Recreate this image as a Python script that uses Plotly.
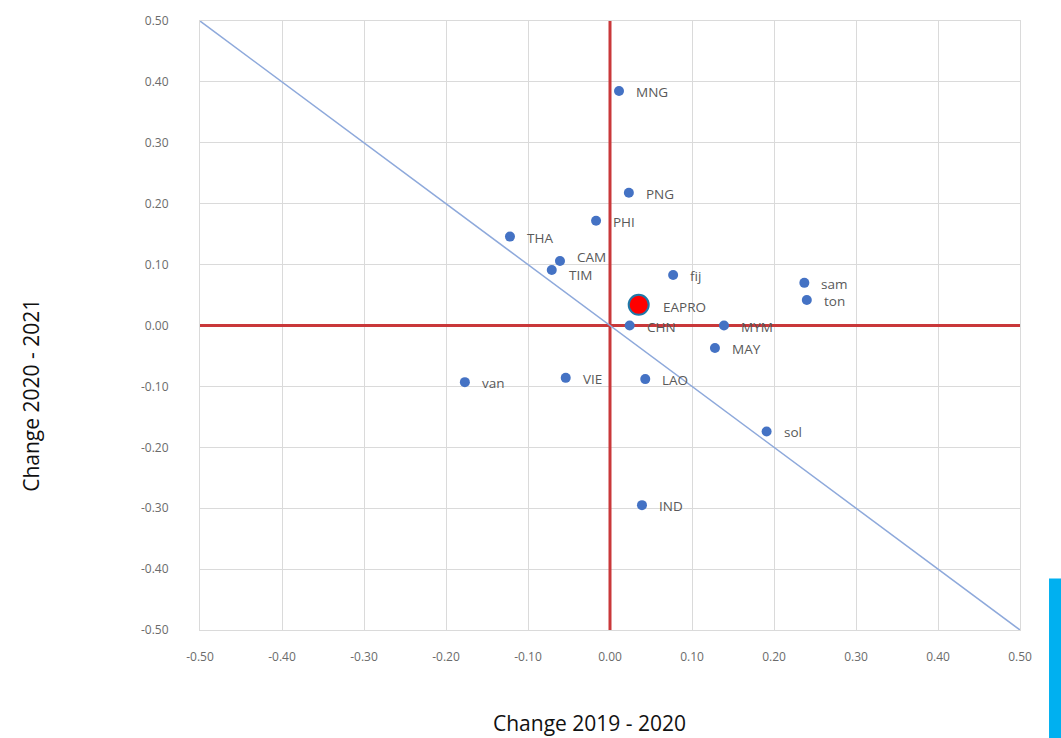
import plotly.graph_objects as go

# Change in indicator by country: 2019-2020 (x) versus 2020-2021 (y)
countries = ["MNG", "PNG", "PHI", "THA", "CAM", "TIM", "fij", "sam", "ton",
             "CHN", "MYM", "MAY", "van", "VIE", "LAO", "sol", "IND"]
change_19_20 = [0.011, 0.023, -0.017, -0.122, -0.061, -0.071, 0.077, 0.237, 0.240,
                0.024, 0.139, 0.128, -0.177, -0.054, 0.043, 0.191, 0.039]
change_20_21 = [0.385, 0.218, 0.172, 0.146, 0.106, 0.091, 0.083, 0.070, 0.042,
                0.000, 0.000, -0.037, -0.093, -0.086, -0.088, -0.174, -0.295]

# Regional aggregate
region_name = "EAPRO"
region_x = [0.035]
region_y = [0.034]

# Reference lines: diagonal y = -x and the two zero axes
diag_x = [-0.5, 0.5]
diag_y = [0.5, -0.5]
zero_h_x = [-0.5, 0.5]
zero_h_y = [0.0, 0.0]
zero_v_x = [0.0, 0.0]
zero_v_y = [-0.5, 0.5]

tick_vals = [-0.5, -0.4, -0.3, -0.2, -0.1, 0.0, 0.1, 0.2, 0.3, 0.4, 0.5]
tick_text = [f"{v:.2f}" for v in tick_vals]

label_font = dict(family="Open Sans, Liberation Sans, sans-serif", size=13.5, color="#595959")
tick_font = dict(family="Open Sans, Liberation Sans, sans-serif", size=12, color="#6b6b6b")

# Small vertical nudges so the two close labels stay legible
label_nudge = {"CAM": 5, "TIM": -4}

fig = go.Figure()

for lx, ly in ((zero_h_x, zero_h_y), (zero_v_x, zero_v_y)):
    fig.add_trace(go.Scatter(x=lx, y=ly, mode="lines",
                             line=dict(color="#C9383A", width=3),
                             hoverinfo="skip", showlegend=False))

fig.add_trace(go.Scatter(x=diag_x, y=diag_y, mode="lines",
                         line=dict(color="#8EA9DB", width=1.5),
                         hoverinfo="skip", showlegend=False))

fig.add_trace(go.Scatter(x=change_19_20, y=change_20_21, mode="markers",
                         marker=dict(color="#4472C4", size=10),
                         text=countries, showlegend=False))

fig.add_trace(go.Scatter(x=region_x, y=region_y, mode="markers",
                         marker=dict(color="#FF0000", size=20,
                                     line=dict(color="#1F78A8", width=2)),
                         text=[region_name], showlegend=False))

# Point labels
for name, xv, yv in zip(countries, change_19_20, change_20_21):
    fig.add_annotation(x=xv, y=yv, text=name, showarrow=False,
                       xanchor="left", yanchor="middle", xshift=15,
                       yshift=-1 + label_nudge.get(name, 0),
                       font=label_font)
fig.add_annotation(x=region_x[0], y=region_y[0], text=region_name, showarrow=False,
                   xanchor="left", yanchor="middle", xshift=22, yshift=-2,
                   font=label_font)

# Axis titles
fig.add_annotation(x=0.475, y=-0.152, xref="paper", yref="paper",
                   text="Change 2019 - 2020", showarrow=False,
                   xanchor="center", yanchor="middle",
                   font=dict(family="Open Sans, Liberation Sans, sans-serif", size=21, color="#111111"))
fig.add_annotation(x=-0.207, y=0.385, xref="paper", yref="paper",
                   text="Change 2020 - 2021", showarrow=False, textangle=-90,
                   xanchor="center", yanchor="middle",
                   font=dict(family="Open Sans, Liberation Sans, sans-serif", size=21, color="#111111"))

# Accent bar on the right edge
fig.add_shape(type="rect", xref="paper", yref="paper",
              x0=1.0354, x1=1.05, y0=-0.18, y1=0.0844,
              fillcolor="#00B0F0", line=dict(width=0))

axis_common = dict(range=[-0.5, 0.5], tickvals=tick_vals, ticktext=tick_text,
                   showgrid=True, gridcolor="#DADADA", gridwidth=1,
                   zeroline=False, showline=True, linecolor="#DADADA", linewidth=1,
                   mirror=True, tickfont=tick_font, ticks="")

fig.update_xaxes(**axis_common, ticklabelstandoff=16)
fig.update_yaxes(**axis_common, ticklabelstandoff=28)

fig.update_layout(width=1061, height=738,
                  margin=dict(l=200, r=41, t=14, b=108),
                  paper_bgcolor="white", plot_bgcolor="white",
                  showlegend=False)

fig.write_html("out.html")
